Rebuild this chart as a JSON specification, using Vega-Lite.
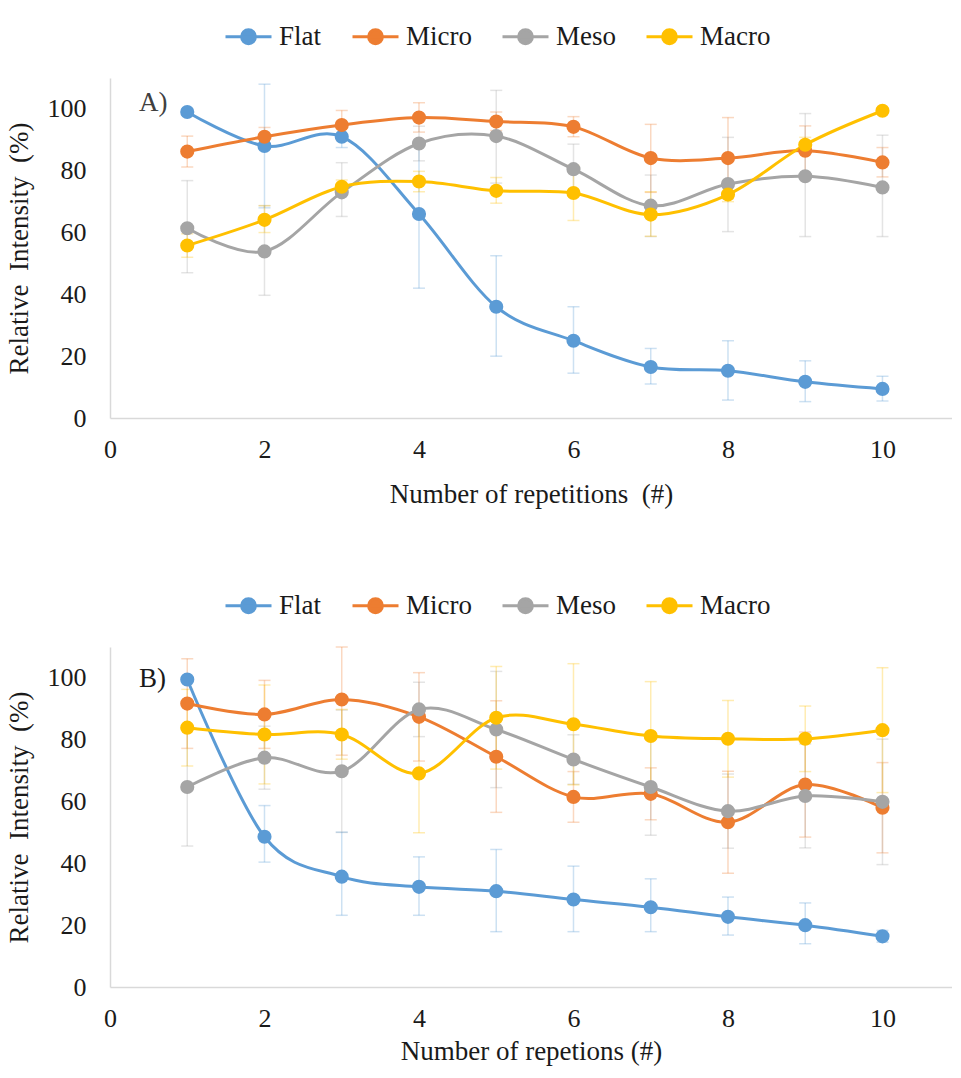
{
  "$schema": "https://vega.github.io/schema/vega-lite/v6.json",
  "padding": {"left": 5, "top": 12, "right": 0, "bottom": 5},
  "background": "white",
  "datasets": {
    "A": [
      {"s": "Flat", "x": 1, "y": 99, "lo": 98, "hi": 100},
      {"s": "Flat", "x": 2, "y": 88, "lo": 68, "hi": 108},
      {"s": "Flat", "x": 3, "y": 91, "lo": 87.5, "hi": 94.5},
      {"s": "Flat", "x": 4, "y": 66, "lo": 42, "hi": 90},
      {"s": "Flat", "x": 5, "y": 36, "lo": 20, "hi": 52.5},
      {"s": "Flat", "x": 6, "y": 25, "lo": 14.5, "hi": 36},
      {"s": "Flat", "x": 7, "y": 16.5, "lo": 11, "hi": 22.5},
      {"s": "Flat", "x": 8, "y": 15.3, "lo": 5.8, "hi": 25},
      {"s": "Flat", "x": 9, "y": 11.7, "lo": 5.3, "hi": 18.5},
      {"s": "Flat", "x": 10, "y": 9.4, "lo": 5.5, "hi": 13.5},
      {"s": "Micro", "x": 1, "y": 86.2, "lo": 81.2, "hi": 91.2},
      {"s": "Micro", "x": 2, "y": 91, "lo": 88, "hi": 94},
      {"s": "Micro", "x": 3, "y": 94.8, "lo": 90, "hi": 99.5},
      {"s": "Micro", "x": 4, "y": 97.2, "lo": 92.5, "hi": 102},
      {"s": "Micro", "x": 5, "y": 95.9, "lo": 93, "hi": 99},
      {"s": "Micro", "x": 6, "y": 94.2, "lo": 91, "hi": 97.5},
      {"s": "Micro", "x": 7, "y": 84.1, "lo": 73, "hi": 95},
      {"s": "Micro", "x": 8, "y": 84.1, "lo": 71, "hi": 97.2},
      {"s": "Micro", "x": 9, "y": 86.5, "lo": 78.5, "hi": 94.5},
      {"s": "Micro", "x": 10, "y": 82.7, "lo": 78, "hi": 87.5},
      {"s": "Meso", "x": 1, "y": 61.4, "lo": 47, "hi": 76.8},
      {"s": "Meso", "x": 2, "y": 53.9, "lo": 39.7, "hi": 68.7},
      {"s": "Meso", "x": 3, "y": 73, "lo": 65.2, "hi": 82.6},
      {"s": "Meso", "x": 4, "y": 88.8, "lo": 83.2, "hi": 94.4},
      {"s": "Meso", "x": 5, "y": 91.2, "lo": 76, "hi": 106},
      {"s": "Meso", "x": 6, "y": 80.5, "lo": 72.5, "hi": 88.6},
      {"s": "Meso", "x": 7, "y": 68.7, "lo": 58.7, "hi": 78.6},
      {"s": "Meso", "x": 8, "y": 75.7, "lo": 60.3, "hi": 90.8},
      {"s": "Meso", "x": 9, "y": 78.2, "lo": 58.7, "hi": 98.5},
      {"s": "Meso", "x": 10, "y": 74.6, "lo": 58.7, "hi": 91.5},
      {"s": "Macro", "x": 1, "y": 55.8, "lo": 52, "hi": 59.6},
      {"s": "Macro", "x": 2, "y": 64.1, "lo": 60, "hi": 68.7},
      {"s": "Macro", "x": 3, "y": 74.8, "lo": 72.5, "hi": 77},
      {"s": "Macro", "x": 4, "y": 76.5, "lo": 73.2, "hi": 79.8},
      {"s": "Macro", "x": 5, "y": 73.5, "lo": 69.5, "hi": 77.8},
      {"s": "Macro", "x": 6, "y": 72.8, "lo": 63.9, "hi": 81.7},
      {"s": "Macro", "x": 7, "y": 65.8, "lo": 58.8, "hi": 73.2},
      {"s": "Macro", "x": 8, "y": 72.3, "lo": 70, "hi": 74.6},
      {"s": "Macro", "x": 9, "y": 88.4, "lo": 86, "hi": 90.8},
      {"s": "Macro", "x": 10, "y": 99.4, "lo": 98.5, "hi": 100.3}
    ],
    "B": [
      {"s": "Flat", "x": 1, "y": 99.5, "lo": 98.5, "hi": 100.5},
      {"s": "Flat", "x": 2, "y": 48.6, "lo": 40.4, "hi": 58.7},
      {"s": "Flat", "x": 3, "y": 35.7, "lo": 23.2, "hi": 50.1},
      {"s": "Flat", "x": 4, "y": 32.4, "lo": 23.2, "hi": 42.1},
      {"s": "Flat", "x": 5, "y": 31, "lo": 17.9, "hi": 44.5},
      {"s": "Flat", "x": 6, "y": 28.3, "lo": 17.9, "hi": 39.1},
      {"s": "Flat", "x": 7, "y": 25.8, "lo": 17.9, "hi": 35},
      {"s": "Flat", "x": 8, "y": 22.7, "lo": 16.8, "hi": 29.1},
      {"s": "Flat", "x": 9, "y": 20, "lo": 14, "hi": 27.2},
      {"s": "Flat", "x": 10, "y": 16.4, "lo": 14.5, "hi": 18.3},
      {"s": "Micro", "x": 1, "y": 91.7, "lo": 77.2, "hi": 106.2},
      {"s": "Micro", "x": 2, "y": 88.2, "lo": 77.2, "hi": 99.2},
      {"s": "Micro", "x": 3, "y": 93, "lo": 75, "hi": 110},
      {"s": "Micro", "x": 4, "y": 87.4, "lo": 73.1, "hi": 101.7},
      {"s": "Micro", "x": 5, "y": 74.5, "lo": 56.5, "hi": 92.6},
      {"s": "Micro", "x": 6, "y": 61.5, "lo": 53.3, "hi": 69.7},
      {"s": "Micro", "x": 7, "y": 62.5, "lo": 54.1, "hi": 70.9},
      {"s": "Micro", "x": 8, "y": 53.3, "lo": 36.8, "hi": 69.8},
      {"s": "Micro", "x": 9, "y": 65.5, "lo": 48.5, "hi": 82.5},
      {"s": "Micro", "x": 10, "y": 58, "lo": 43.4, "hi": 72.6},
      {"s": "Meso", "x": 1, "y": 64.7, "lo": 45.6, "hi": 83.7},
      {"s": "Meso", "x": 2, "y": 74.2, "lo": 64, "hi": 84.4},
      {"s": "Meso", "x": 3, "y": 69.8, "lo": 50, "hi": 89.6},
      {"s": "Meso", "x": 4, "y": 89.8, "lo": 81, "hi": 98.6},
      {"s": "Meso", "x": 5, "y": 83.3, "lo": 64.5, "hi": 102.1},
      {"s": "Meso", "x": 6, "y": 73.6, "lo": 65.6, "hi": 81.6},
      {"s": "Meso", "x": 7, "y": 64.7, "lo": 49.1, "hi": 80.3},
      {"s": "Meso", "x": 8, "y": 56.9, "lo": 44.9, "hi": 68.9},
      {"s": "Meso", "x": 9, "y": 61.8, "lo": 45, "hi": 78.6},
      {"s": "Meso", "x": 10, "y": 59.9, "lo": 39.6, "hi": 80.2},
      {"s": "Macro", "x": 1, "y": 83.9, "lo": 71.5, "hi": 96.3},
      {"s": "Macro", "x": 2, "y": 81.7, "lo": 65.7, "hi": 97.7},
      {"s": "Macro", "x": 3, "y": 81.7, "lo": 73.7, "hi": 89.8},
      {"s": "Macro", "x": 4, "y": 69.1, "lo": 49.9, "hi": 88.3},
      {"s": "Macro", "x": 5, "y": 87.1, "lo": 70.5, "hi": 103.7},
      {"s": "Macro", "x": 6, "y": 85, "lo": 65.4, "hi": 104.6},
      {"s": "Macro", "x": 7, "y": 81.2, "lo": 63.6, "hi": 98.8},
      {"s": "Macro", "x": 8, "y": 80.3, "lo": 67.9, "hi": 92.7},
      {"s": "Macro", "x": 9, "y": 80.3, "lo": 69.7, "hi": 90.9},
      {"s": "Macro", "x": 10, "y": 83.1, "lo": 62.9, "hi": 103.3}
    ]
  },
  "vconcat": [
    {
      "width": 842,
      "height": 340,
      "data": {"name": "A"},
      "layer": [
        {
          "mark": {"type": "errorbar", "ticks": {"size": 12}, "thickness": 1.5, "opacity": 0.3},
          "encoding": {
            "x": {"field": "x", "type": "quantitative", "scale": {"domain": [0, 10.9], "nice": false}, "axis": {"values": [0, 2, 4, 6, 8, 10], "format": "d", "title": "Number of repetitions\u00a0 (#)"}},
            "y": {"field": "lo", "type": "quantitative", "scale": {"domain": [0, 110], "nice": false}, "axis": {"values": [0, 20, 40, 60, 80, 100], "format": "d", "title": "Relative\u00a0 Intensity\u00a0 (%)"}},
            "y2": {"field": "hi"},
            "color": {"field": "s", "type": "nominal", "scale": {"domain": ["Flat", "Micro", "Meso", "Macro"], "range": ["#5B9BD5", "#ED7D31", "#A5A5A5", "#FFC000"]}}
          }
        },
        {
          "mark": {"type": "line", "interpolate": "cardinal", "strokeWidth": 3},
          "encoding": {
            "x": {"field": "x", "type": "quantitative", "axis": {"values": [0, 2, 4, 6, 8, 10], "format": "d", "title": "Number of repetitions\u00a0 (#)"}},
            "y": {"field": "y", "type": "quantitative", "axis": {"values": [0, 20, 40, 60, 80, 100], "format": "d", "title": "Relative\u00a0 Intensity\u00a0 (%)"}},
            "color": {"field": "s", "type": "nominal", "legend": {"orient": "none", "legendX": 114, "legendY": -66, "direction": "horizontal", "title": null, "encode": {"symbols": {"update": {"fill": {"scale": "color", "field": "value"}, "stroke": {"scale": "color", "field": "value"}, "opacity": {"value": 1}}}, "labels": {"update": {"font": {"value": "Liberation Serif"}}}}}}
          }
        },
        {
          "mark": {"type": "point", "filled": true, "size": 200, "opacity": 1},
          "encoding": {
            "x": {"field": "x", "type": "quantitative"},
            "y": {"field": "y", "type": "quantitative"},
            "color": {"field": "s", "type": "nominal"}
          }
        },
        {
          "data": {"values": [{"x": 0.375, "y": 102, "t": "A)"}]},
          "mark": {"type": "text", "align": "left", "baseline": "middle", "font": "Liberation Serif", "fontSize": 27, "color": "#404040"},
          "encoding": {
            "x": {"field": "x", "type": "quantitative"},
            "y": {"field": "y", "type": "quantitative"},
            "text": {"field": "t"}
          }
        }
      ]
    },
    {
      "width": 842,
      "height": 340,
      "data": {"name": "B"},
      "layer": [
        {
          "mark": {"type": "errorbar", "ticks": {"size": 12}, "thickness": 1.5, "opacity": 0.3},
          "encoding": {
            "x": {"field": "x", "type": "quantitative", "scale": {"domain": [0, 10.9], "nice": false}, "axis": {"values": [0, 2, 4, 6, 8, 10], "format": "d", "title": "Number of repetions (#)", "titlePadding": 7}},
            "y": {"field": "lo", "type": "quantitative", "scale": {"domain": [0, 110], "nice": false}, "axis": {"values": [0, 20, 40, 60, 80, 100], "format": "d", "title": "Relative\u00a0 Intensity\u00a0 (%)"}},
            "y2": {"field": "hi"},
            "color": {"field": "s", "type": "nominal"}
          }
        },
        {
          "mark": {"type": "line", "interpolate": "cardinal", "strokeWidth": 3},
          "encoding": {
            "x": {"field": "x", "type": "quantitative", "axis": {"values": [0, 2, 4, 6, 8, 10], "format": "d", "title": "Number of repetions (#)", "titlePadding": 7}},
            "y": {"field": "y", "type": "quantitative", "axis": {"values": [0, 20, 40, 60, 80, 100], "format": "d", "title": "Relative\u00a0 Intensity\u00a0 (%)"}},
            "color": {"field": "s", "type": "nominal", "legend": {"orient": "none", "legendX": 114, "legendY": -66, "direction": "horizontal", "title": null, "encode": {"symbols": {"update": {"fill": {"scale": "color", "field": "value"}, "stroke": {"scale": "color", "field": "value"}, "opacity": {"value": 1}}}, "labels": {"update": {"font": {"value": "Liberation Serif"}}}}}}
          }
        },
        {
          "mark": {"type": "point", "filled": true, "size": 200, "opacity": 1},
          "encoding": {
            "x": {"field": "x", "type": "quantitative"},
            "y": {"field": "y", "type": "quantitative"},
            "color": {"field": "s", "type": "nominal"}
          }
        },
        {
          "data": {"values": [{"x": 0.375, "y": 99.6, "t": "B)"}]},
          "mark": {"type": "text", "align": "left", "baseline": "middle", "font": "Liberation Serif", "fontSize": 27, "color": "#1a1a1a"},
          "encoding": {
            "x": {"field": "x", "type": "quantitative"},
            "y": {"field": "y", "type": "quantitative"},
            "text": {"field": "t"}
          }
        }
      ]
    }
  ],
  "spacing": 74,
  "resolve": {"legend": {"color": "independent"}},
  "config": {
    "view": {"stroke": null},
    "font": "Liberation Serif",
    "legend": {
      "labelFont": "Liberation Serif",
      "labelFontSize": 27,
      "labelColor": "#1a1a1a",
      "labelOffset": 6,
      "columnPadding": 24,
      "symbolType": "M-1,0L1,0M-0.3,0A0.3,0.3,0,1,1,0.3,0A0.3,0.3,0,1,1,-0.3,0Z",
      "symbolSize": 2116,
      "symbolStrokeWidth": 3
    },
    "axis": {
      "grid": false,
      "ticks": false,
      "domainColor": "#D9D9D9",
      "domainWidth": 1.5,
      "labelFont": "Liberation Serif",
      "labelFontSize": 26,
      "labelColor": "#1a1a1a",
      "labelFlush": false,
      "labelOverlap": false,
      "titleFont": "Liberation Serif",
      "titleFontSize": 27,
      "titleFontWeight": "normal",
      "titleColor": "#1a1a1a"
    },
    "axisX": {"labelPadding": 18, "titlePadding": 19},
    "axisY": {"labelPadding": 24, "titlePadding": 14}
  }
}
